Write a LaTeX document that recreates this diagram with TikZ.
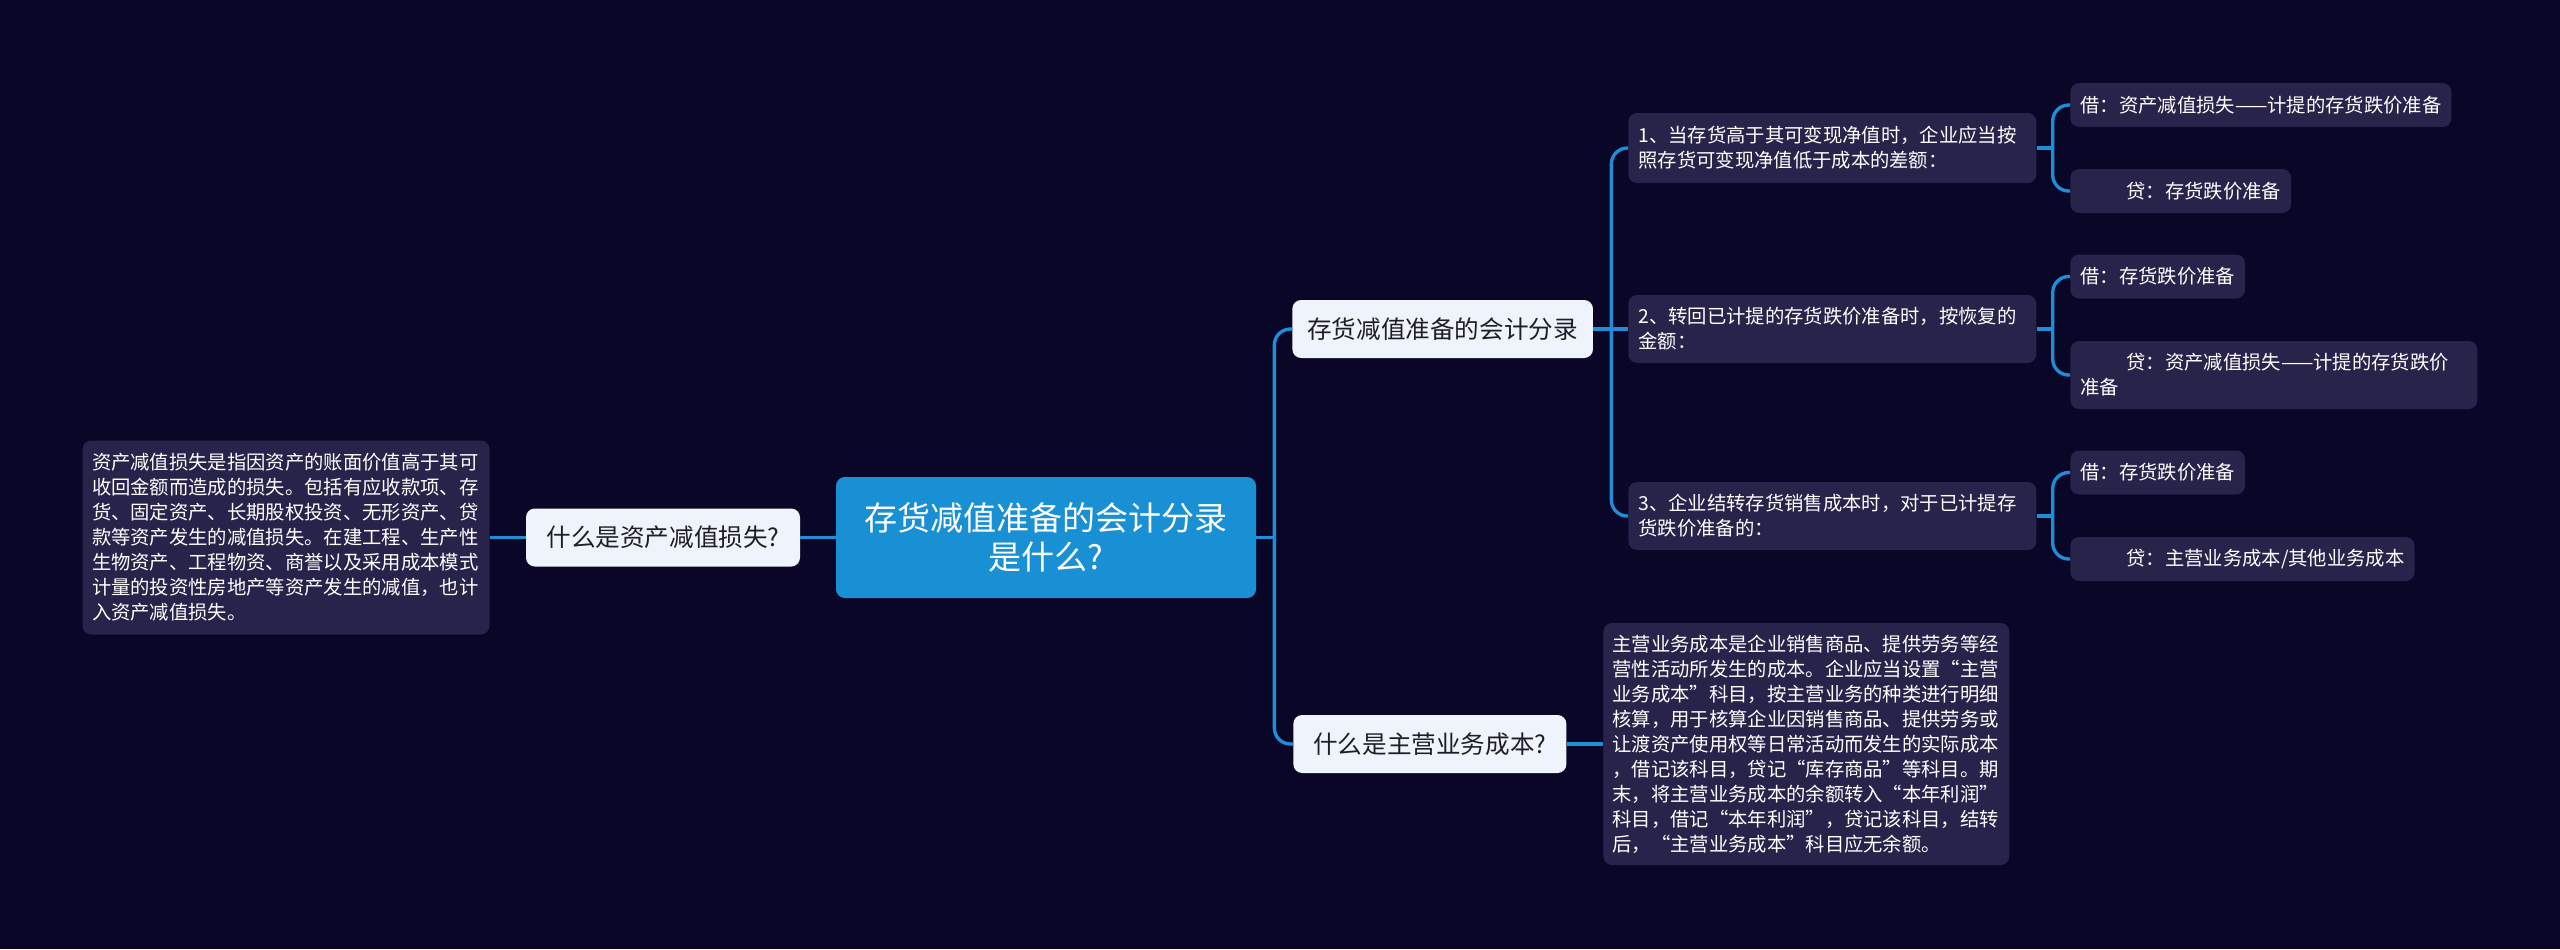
\documentclass[tikz,border=0pt]{standalone}
\usepackage{fontspec}
\setmainfont{Noto Sans CJK SC}
\usepackage{tikz}
\usetikzlibrary{positioning,calc}
\usepackage{xcolor}

\definecolor{bgnavy}{HTML}{0A0628}
\definecolor{rootblue}{HTML}{1A90D4}
\definecolor{linkblue}{HTML}{1E8FD6}
\definecolor{topicfill}{HTML}{EEF3FC}
\definecolor{topictext}{HTML}{1E1E28}
\definecolor{leaffill}{HTML}{27234A}

\begin{document}
\begin{tikzpicture}[
    mainbox/.style={fill=rootblue, text=white, rounded corners=5pt, minimum width=8.4cm, minimum height=2.42cm, align=center, font=\fontsize{18.8pt}{22.2pt}\selectfont},
    topic/.style={fill=topicfill, text=topictext, rounded corners=5pt, minimum height=1.16cm, inner xsep=0.3cm, font=\fontsize{14pt}{17pt}\selectfont},
    detail/.style={fill=leaffill, text=white, rounded corners=5pt, align=left, inner xsep=0.2cm, inner ysep=0pt, font=\fontsize{11pt}{14.2pt}\selectfont},
    entry/.style={detail, anchor=west, minimum height=0.88cm},
    link/.style={draw=linkblue, line width=1.9pt, rounded corners=0.32cm}
]
    % Background
    \fill[bgnavy] (0,0) rectangle (51.2,-18.98);
    \useasboundingbox (0,0) rectangle (51.2,-18.98);

    % Central topic
    \node[mainbox] (main) at (20.92,-10.75) {存货减值准备的会计分录\\是什么?};

    % Left branch
    \node[topic, minimum width=5.48cm] (lossQ) at (13.26,-10.75) {什么是资产减值损失?};
    \node[detail, text width=7.76cm, inner xsep=0.19cm, minimum height=3.88cm] (lossNote) at (5.72,-10.75) {资产减值损失是指因资产的账面价值高于其可\\收回金额而造成的损失。包括有应收款项、存\\货、固定资产、长期股权投资、无形资产、贷\\款等资产发生的减值损失。在建工程、生产性\\生物资产、工程物资、商誉以及采用成本模式\\计量的投资性房地产等资产发生的减值，也计\\入资产减值损失。};

    % Right branch: entries
    \node[topic, anchor=west, minimum width=5.98cm] (entries) at (25.84,-6.58) {存货减值准备的会计分录};
    \node[detail, anchor=west, text width=7.76cm, minimum height=1.4cm] (stepOne) at (32.56,-2.96) {1、当存货高于其可变现净值时，企业应当按\\照存货可变现净值低于成本的差额：};
    \node[detail, anchor=west, text width=7.76cm, minimum height=1.36cm] (stepTwo) at (32.56,-6.58) {2、转回已计提的存货跌价准备时，按恢复的\\金额：};
    \node[detail, anchor=west, text width=7.76cm, minimum height=1.36cm] (stepThree) at (32.56,-10.32) {3、企业结转存货销售成本时，对于已计提存\\货跌价准备的：};

    % Debit / credit lines
    \node[entry] (debitOne) at (41.4,-2.1) {借：资产减值损失——计提的存货跌价准备};
    \node[entry] (creditOne) at (41.4,-3.82) {\hspace*{0.92cm}贷：存货跌价准备};
    \node[entry] (debitTwo) at (41.4,-5.53) {借：存货跌价准备};
    \node[entry, text width=7.74cm, minimum height=1.36cm] (creditTwo) at (41.4,-7.5) {\hspace*{0.92cm}贷：资产减值损失——计提的存货跌价\\准备};
    \node[entry] (debitThree) at (41.4,-9.45) {借：存货跌价准备};
    \node[entry] (creditThree) at (41.4,-11.18) {\hspace*{0.92cm}贷：主营业务成本/其他业务成本};

    % Right branch: main business cost
    \node[topic, anchor=west, minimum width=5.46cm] (costQ) at (25.86,-14.88) {什么是主营业务成本?};
    \node[detail, anchor=west, text width=7.76cm, inner xsep=0.18cm, minimum height=4.84cm] (costNote) at (32.06,-14.88) {主营业务成本是企业销售商品、提供劳务等经\\营性活动所发生的成本。企业应当设置“主营\\业务成本”科目，按主营业务的种类进行明细\\核算，用于核算企业因销售商品、提供劳务或\\让渡资产使用权等日常活动而发生的实际成本\\，借记该科目，贷记“库存商品”等科目。期\\末，将主营业务成本的余额转入“本年利润”\\科目，借记“本年利润”，贷记该科目，结转\\后，“主营业务成本”科目应无余额。};

    % Connectors
    \draw[link] (main.west) -- (lossQ.east);
    \draw[link] (lossQ.west) -- (lossNote.east);

    \coordinate (jMain) at ([xshift=0.36cm]main.east);
    \draw[link] (main.east) -- (jMain);
    \foreach \n in {entries,costQ}
        \draw[link] (jMain) |- (\n.west);

    \coordinate (jEntries) at ([xshift=0.36cm]entries.east);
    \draw[link] (entries.east) -- (stepTwo.west);
    \foreach \n in {stepOne,stepThree}
        \draw[link] (jEntries) |- (\n.west);

    \draw[link] (costQ.east) -- (costNote.west);

    \coordinate (jOne) at ([xshift=0.32cm]stepOne.east);
    \coordinate (jTwo) at ([xshift=0.32cm]stepTwo.east);
    \coordinate (jThree) at ([xshift=0.32cm]stepThree.east);
    \draw[link] (stepOne.east) -- (jOne);
    \draw[link] (stepTwo.east) -- (jTwo);
    \draw[link] (stepThree.east) -- (jThree);
    \draw[link] (jOne) |- (debitOne.west);
    \draw[link] (jOne) |- (creditOne.west);
    \draw[link] (jTwo) |- (debitTwo.west);
    \draw[link] (jTwo) |- (creditTwo.west);
    \draw[link] (jThree) |- (debitThree.west);
    \draw[link] (jThree) |- (creditThree.west);
\end{tikzpicture}
\end{document}
